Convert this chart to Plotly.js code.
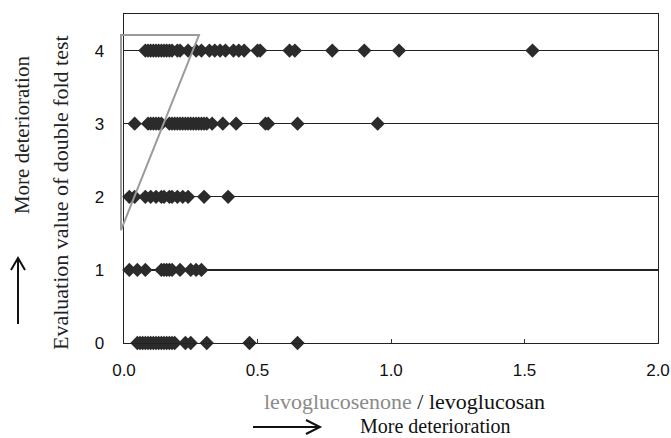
<!DOCTYPE html>
<html>
<head>
<meta charset="utf-8">
<script src="https://cdn.plot.ly/plotly-3.0.1.min.js"></script>
<style>html,body{margin:0;padding:0;background:#fff;}#chart{width:671px;height:438px;}</style>
</head>
<body>
<div id="chart"></div>
<script>
// Evaluation value of double fold test (0–4) vs. levoglucosenone / levoglucosan ratio
const ratioLevel4 = [0.08,0.09,0.10,0.11,0.12,0.13,0.14,0.15,0.16,0.17,0.18,0.20,0.21,0.24,0.27,0.29,0.32,0.34,0.36,0.38,0.41,0.43,0.45,0.50,0.51,0.62,0.64,0.78,0.90,1.03,1.53];
const ratioLevel3 = [0.04,0.09,0.10,0.11,0.12,0.13,0.14,0.17,0.18,0.19,0.20,0.21,0.22,0.23,0.24,0.25,0.26,0.27,0.28,0.29,0.30,0.31,0.33,0.37,0.42,0.53,0.54,0.65,0.95];
const ratioLevel2 = [0.02,0.04,0.08,0.10,0.12,0.14,0.15,0.17,0.18,0.20,0.22,0.24,0.30,0.39];
const ratioLevel1 = [0.02,0.05,0.08,0.14,0.15,0.16,0.17,0.18,0.21,0.25,0.27,0.29];
const ratioLevel0 = [0.05,0.06,0.07,0.08,0.09,0.10,0.11,0.12,0.13,0.14,0.15,0.16,0.17,0.18,0.19,0.23,0.25,0.31,0.47,0.65];
const levels = [4,3,2,1,0];
const xTickVals = [0,0.5,1.0,1.5,2.0];
const xTickText = ["0.0","0.5","1.0","1.5","2.0"];
const yTickVals = [0,1,2,3,4];
const yTickText = ["0","1","2","3","4"];

const series = [ratioLevel4, ratioLevel3, ratioLevel2, ratioLevel1, ratioLevel0];
const xs = [], ys = [];
series.forEach((arr, i) => arr.forEach(v => { xs.push(v); ys.push(levels[i]); }));

const serif = "Liberation Serif, Times New Roman, serif";
const sans = "Liberation Sans, Arial, sans-serif";

const trace = {
  type: 'scatter', mode: 'markers', x: xs, y: ys,
  marker: {symbol: 'diamond', size: 11, color: '#2b2b2b', line: {width: 0}},
  cliponaxis: false, hoverinfo: 'x+y', showlegend: false
};

const layout = {
  width: 671, height: 438,
  margin: {l: 124, r: 13, t: 14, b: 95},
  paper_bgcolor: '#fff', plot_bgcolor: '#fff',
  showlegend: false,
  xaxis: {
    range: [0, 2.0], tickvals: xTickVals, ticktext: xTickText,
    ticks: 'inside', ticklen: 4, tickwidth: 1, tickcolor: '#333',
    showgrid: false, zeroline: false,
    showline: true, linecolor: '#222', linewidth: 1.3, mirror: true,
    tickfont: {family: sans, size: 17, color: '#111'},
    ticklabelstandoff: 11
  },
  yaxis: {
    range: [0, 4.5], tickvals: yTickVals, ticktext: yTickText,
    ticks: '', showgrid: true, gridcolor: '#222', gridwidth: 1.3,
    zeroline: false,
    showline: true, linecolor: '#222', linewidth: 1.3, mirror: true,
    tickfont: {family: sans, size: 17, color: '#111'},
    ticklabelstandoff: 15
  },
  shapes: [
    {type: 'path', xref: 'paper', yref: 'paper',
     path: 'M -0.0056 0.936 L 0.1404 0.936 L -0.0056 0.343 Z',
     line: {color: '#9a9a9a', width: 2}, layer: 'above'},
    {type: 'path', xref: 'paper', yref: 'paper',
     path: 'M -0.1985 0.0578 L -0.1985 0.2584 M -0.2116 0.2219 L -0.1985 0.2584 L -0.1854 0.2219',
     line: {color: '#111', width: 2}},
    {type: 'path', xref: 'paper', yref: 'paper',
     path: 'M 0.2416 -0.2553 L 0.367 -0.2553 M 0.3408 -0.234 L 0.367 -0.2553 L 0.3408 -0.2766',
     line: {color: '#111', width: 2}}
  ],
  annotations: [
    {text: 'Evaluation value of double fold test', xref: 'paper', yref: 'paper',
     x: -0.118, y: 0.459, xanchor: 'center', yanchor: 'middle', textangle: -90,
     showarrow: false, font: {family: serif, size: 22, color: '#222'}},
    {text: 'More deterioration', xref: 'paper', yref: 'paper',
     x: -0.191, y: 0.632, xanchor: 'center', yanchor: 'middle', textangle: -90,
     showarrow: false, font: {family: serif, size: 21, color: '#222'}},
    {text: "<span style='color:#8a8a8a;font-family:Liberation Serif'>levoglucosenone</span><span style='font-family:Liberation Serif'> / levoglucosan</span>",
     xref: 'paper', yref: 'paper',
     x: 0.526, y: -0.179, xanchor: 'center', yanchor: 'middle',
     showarrow: false, font: {family: serif, size: 22, color: '#111'}},
    {text: 'More deterioration', xref: 'paper', yref: 'paper',
     x: 0.584, y: -0.252, xanchor: 'center', yanchor: 'middle',
     showarrow: false, font: {family: serif, size: 20, color: '#111'}}
  ]
};

Plotly.newPlot('chart', [trace], layout, {displayModeBar: false, staticPlot: true});
</script>
</body>
</html>
